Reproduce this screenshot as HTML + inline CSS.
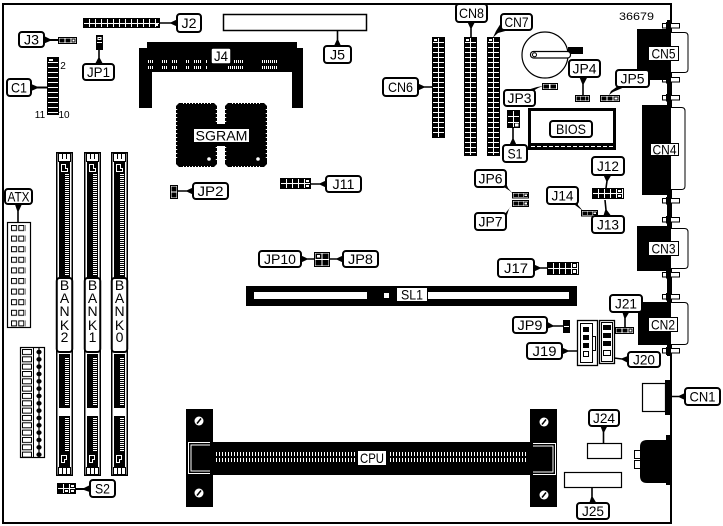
<!DOCTYPE html>
<html><head><meta charset="utf-8">
<style>
html,body{margin:0;padding:0;background:#fff;}
svg{display:block;}
text{font-family:"Liberation Sans",sans-serif;font-size:14px;text-anchor:middle;fill:#000;}
.b{fill:#fff;stroke:#000;stroke-width:2;}
.t{fill:#000;}
</style></head><body>
<svg width="723" height="526" viewBox="0 0 723 526" xmlns="http://www.w3.org/2000/svg">
<defs>
<pattern id="pg" x="1" y="1" width="6" height="5" patternUnits="userSpaceOnUse"><rect width="6" height="5" fill="#000"/><rect x="5" width="1" height="5" fill="#fff"/><rect y="4" width="6" height="1" fill="#fff"/></pattern>
<pattern id="pg6" x="1" y="1" width="6" height="6" patternUnits="userSpaceOnUse"><rect width="6" height="6" fill="#000"/><rect x="5" width="1" height="6" fill="#fff"/><rect y="5" width="6" height="1" fill="#fff"/></pattern>
<pattern id="ht" width="4" height="2" patternUnits="userSpaceOnUse"><rect width="4" height="1" fill="#fff"/></pattern>
<pattern id="vt" width="2" height="4" patternUnits="userSpaceOnUse"><rect width="1" height="4" fill="#fff"/></pattern>
<pattern id="vt3" width="3" height="4" patternUnits="userSpaceOnUse"><rect width="1" height="4" fill="#fff"/></pattern>
<pattern id="atx" x="11" y="225" width="7.3" height="10.6" patternUnits="userSpaceOnUse"><rect x="0.5" y="0.5" width="5" height="5" fill="#fff" stroke="#000" stroke-width="1"/></pattern>
<pattern id="lsq" x="22" y="349" width="10" height="7.33" patternUnits="userSpaceOnUse"><rect x="0.5" y="0.5" width="9" height="5" fill="#fff" stroke="#000" stroke-width="1"/></pattern>
<pattern id="rsq" x="35" y="349" width="8" height="7.33" patternUnits="userSpaceOnUse"><ellipse cx="4" cy="3" rx="2.6" ry="2.3" fill="#000"/></pattern>
<g id="slot">
 <rect x="0.75" y="152.75" width="15.5" height="322.5" fill="#fff" stroke="#000" stroke-width="1.5"/>
 <rect x="2.5" y="153.5" width="12" height="8" fill="#fff" stroke="#000" stroke-width="1"/>
 <path d="M6.5,153.5V159M10.5,153.5V159" stroke="#000" stroke-width="1"/>
 <rect x="3" y="161" width="11" height="117" fill="#000"/>
 <path d="M5.5,164.5h4v4h2v3h-6z" fill="none" stroke="#fff" stroke-width="1"/>
 <rect x="9" y="174" width="4" height="102" fill="url(#ht)"/>
 <rect x="3" y="354" width="11" height="54" fill="#000"/>
 <rect x="9" y="357" width="4" height="49" fill="url(#ht)"/>
 <rect x="3" y="416" width="11" height="51" fill="#000"/>
 <rect x="9" y="418" width="4" height="34" fill="url(#ht)"/>
 <path d="M5.5,455.5h5v4h-2v3h-3z" fill="none" stroke="#fff" stroke-width="1"/>
 <rect x="2.5" y="467.5" width="12" height="7" fill="#fff" stroke="#000" stroke-width="1"/>
 <path d="M6.5,467.5v7M10.5,467.5v7" stroke="#000" stroke-width="1"/>
 <rect x="0.75" y="278" width="15.5" height="74" rx="3" fill="#fff" stroke="#000" stroke-width="2"/>
</g>
</defs>

<rect width="723" height="526" fill="#fff"/>
<!-- board -->
<rect x="3" y="4" width="668" height="519" fill="none" stroke="#000" stroke-width="2"/>

<!-- J5 -->
<rect x="223.5" y="14.5" width="143" height="16" fill="none" stroke="#000" stroke-width="1.5"/>

<!-- J2 -->
<g transform="translate(83,18)"><rect width="77" height="10" fill="#000"/><rect x="1" y="1" width="75" height="8" fill="url(#pg)"/><rect x="72" y="6" width="3" height="2" fill="#fff"/></g>

<!-- J3 -->
<rect x="58.5" y="37.5" width="18" height="6" fill="#fff" stroke="#000"/>
<rect x="59.5" y="38.5" width="5" height="4" fill="#000"/><rect x="65.5" y="38.5" width="5" height="4" fill="#000"/>
<rect x="71.5" y="38.5" width="4" height="4" fill="#000"/><rect x="72.5" y="39.5" width="2" height="2" fill="#fff"/>

<!-- JP1 -->
<rect x="96" y="35" width="7" height="15" fill="#000"/><rect x="97" y="42" width="5" height="1" fill="#fff"/><rect x="97.5" y="37" width="4" height="3" fill="#fff"/><rect x="98.5" y="38" width="2" height="1" fill="#000"/>

<!-- C1 -->
<rect x="47" y="57" width="12" height="58" fill="#000"/>
<path d="M48,62.5H58M48,67.5H58M48,72.5H58M48,77.5H58M48,82.5H58M48,87.5H58M48,92.5H58M48,97.5H58M48,102.5H58M48,107.5H58M48,112.5H58" stroke="#fff" stroke-width="1"/>
<rect x="49" y="59" width="4" height="2" fill="#fff"/>
<text x="63" y="69" style="font-size:10px">2</text>
<text x="40" y="118" style="font-size:10px">11</text>
<text x="64" y="118" style="font-size:10px">10</text>

<!-- J4 -->
<path d="M147,42H297V48H303V108H292V72H152V108H139V48H147Z" fill="#000"/>
<rect x="144" y="46" width="3" height="2" fill="#fff"/>
<g fill="url(#vt)">
<rect x="148" y="60" width="6" height="3"/><rect x="162" y="60" width="6" height="3"/><rect x="172" y="60" width="6" height="3"/><rect x="185" y="60" width="4" height="3"/><rect x="194" y="60" width="8" height="3"/><rect x="206" y="60" width="2" height="3"/><rect x="234" y="60" width="9" height="3"/><rect x="262" y="60" width="15" height="3"/>
<rect x="148" y="66" width="6" height="3"/><rect x="162" y="66" width="6" height="3"/><rect x="172" y="66" width="6" height="3"/><rect x="185" y="66" width="4" height="3"/><rect x="194" y="66" width="8" height="3"/><rect x="206" y="66" width="2" height="3"/><rect x="228" y="66" width="15" height="3"/><rect x="262" y="66" width="15" height="3"/>
</g>
<rect x="211" y="48" width="20" height="16" rx="2" fill="#fff" stroke="#000" stroke-width="1.5"/>
<text x="221" y="61" textLength="14" lengthAdjust="spacingAndGlyphs">J4</text>

<!-- SGRAM -->
<path d="M179,103H214L217,106V164L214,167H179L176,164V106Z" fill="#000"/>
<path d="M228,103H264L267,106V164L264,167H228L225,164V106Z" fill="#000"/>
<rect x="216" y="124" width="10" height="22" fill="#000"/>
<g stroke="#fff" fill="none">
<path d="M183,103.5H212M183,166.5H212M232,103.5H262M232,166.5H262" stroke-width="1" stroke-dasharray="1 2"/>
<path d="M176.5,109V161M216.5,109V123M216.5,147V161M225.5,109V123M225.5,147V161M266.5,109V161" stroke-width="1.5" stroke-dasharray="1 3"/>
</g>
<circle cx="209" cy="159" r="1.8" fill="#fff"/><circle cx="258" cy="159" r="1.8" fill="#fff"/>
<rect x="193.5" y="128.5" width="56" height="14" fill="#fff" stroke="#000" stroke-width="1"/>
<text x="221.5" y="140.5" textLength="52" lengthAdjust="spacingAndGlyphs">SGRAM</text>

<!-- CN6, CN8, CN7 -->
<g transform="translate(432,37)"><rect width="13" height="101" fill="#000"/><rect x="1" y="1" width="11" height="99" fill="url(#pg)"/><rect x="2" y="2" width="3" height="2" fill="#fff"/></g>
<g transform="translate(464,37)"><rect width="13" height="119" fill="#000"/><rect x="1" y="1" width="11" height="117" fill="url(#pg)"/><rect x="2" y="2" width="3" height="2" fill="#fff"/></g>
<g transform="translate(487,37)"><rect width="13" height="119" fill="#000"/><rect x="1" y="1" width="11" height="117" fill="url(#pg)"/><rect x="2" y="2" width="3" height="2" fill="#fff"/></g>

<!-- battery -->
<circle cx="545" cy="55" r="23" fill="none" stroke="#000" stroke-width="1.2"/>
<rect x="568" y="47" width="15" height="7" fill="#000"/>
<rect x="530.5" y="51.5" width="40" height="6.5" rx="3" fill="#fff" stroke="#000" stroke-width="1.2"/>
<circle cx="534.5" cy="54.8" r="2" fill="#fff" stroke="#000" stroke-width="1"/>

<text x="636.5" y="20" style="font-size:11px" textLength="35" lengthAdjust="spacingAndGlyphs">36679</text>

<!-- JP3 -->
<rect x="542.5" y="83.5" width="15" height="6" fill="#fff" stroke="#000"/>
<rect x="543.5" y="84.5" width="5.5" height="4" fill="#000"/><rect x="550.5" y="84.5" width="5.5" height="4" fill="#000"/>
<!-- JP4 -->
<rect x="575.5" y="95.5" width="14" height="6" fill="#fff" stroke="#000"/>
<rect x="576.5" y="96.5" width="4" height="4" fill="#000"/><rect x="581" y="96.5" width="4" height="4" fill="#000"/><rect x="585.5" y="96.5" width="3" height="4" fill="#000"/>
<!-- JP5 -->
<rect x="600.5" y="95.5" width="19" height="6" fill="#fff" stroke="#000"/>
<rect x="601.5" y="96.5" width="5" height="4" fill="#000"/><rect x="607.5" y="96.5" width="5" height="4" fill="#000"/>
<rect x="613.5" y="96.5" width="5" height="4" fill="#000"/><rect x="614.5" y="97.5" width="3" height="2" fill="#fff"/>

<!-- BIOS -->
<rect x="529.5" y="109.5" width="85" height="39" fill="#fff" stroke="#000" stroke-width="3"/>
<rect x="528" y="143" width="88" height="7" fill="#000"/>
<line x1="531" y1="146.5" x2="613" y2="146.5" stroke="#fff" stroke-width="1" stroke-dasharray="4 2"/>
<rect x="550" y="121" width="42" height="16" rx="3" class="b"/>
<text x="571" y="134" textLength="30" lengthAdjust="spacingAndGlyphs">BIOS</text>

<!-- S1 -->
<rect x="507" y="110" width="13" height="18" fill="#000"/>
<path d="M513.5,111V127M508,116.5H519M508,122.5H519" stroke="#fff" stroke-width="1"/>
<rect x="515" y="123.5" width="3.5" height="3" fill="#fff"/>

<!-- right edge bars -->
<rect x="667" y="20" width="4" height="336" fill="#000"/>

<!-- CN5 -->
<path d="M671,32.5H684.5Q688,32.5 688,36V69Q688,72.5 684.5,72.5H671" fill="#fff" stroke="#000" stroke-width="1"/>
<rect x="662.5" y="23.5" width="17" height="4.5" fill="#fff" stroke="#000"/><rect x="666" y="22" width="5" height="7.5" fill="#000"/>
<rect x="662.5" y="77.5" width="17" height="4.5" fill="#fff" stroke="#000"/><rect x="666" y="76" width="5" height="7.5" fill="#000"/>
<rect x="637" y="29" width="34" height="51" fill="#000"/>
<rect x="648.5" y="46.5" width="30" height="14" fill="#fff" stroke="#000" stroke-width="1"/>
<text x="663.5" y="58.5" textLength="24" lengthAdjust="spacingAndGlyphs">CN5</text>

<!-- CN4 -->
<path d="M671,107.5H681.5Q685,107.5 685,111V186Q685,189.5 681.5,189.5H671" fill="#fff" stroke="#000" stroke-width="1"/>
<rect x="662.5" y="95.5" width="17" height="4.5" fill="#fff" stroke="#000"/><rect x="666" y="94" width="5" height="7.5" fill="#000"/>
<rect x="662.5" y="198.5" width="17" height="4.5" fill="#fff" stroke="#000"/><rect x="666" y="197" width="5" height="7.5" fill="#000"/>
<rect x="642" y="105" width="29" height="90" fill="#000"/>
<rect x="650.5" y="143.5" width="28" height="12" fill="#fff" stroke="#000" stroke-width="1"/>
<text x="664.5" y="154.5" textLength="24" lengthAdjust="spacingAndGlyphs">CN4</text>

<!-- CN3 -->
<path d="M671,228.5H684.5Q688,228.5 688,232V265Q688,268.5 684.5,268.5H671" fill="#fff" stroke="#000" stroke-width="1"/>
<rect x="662.5" y="217.5" width="17" height="4.5" fill="#fff" stroke="#000"/><rect x="666" y="216" width="5" height="7.5" fill="#000"/>
<rect x="662.5" y="272.5" width="17" height="4.5" fill="#fff" stroke="#000"/><rect x="666" y="271" width="5" height="7.5" fill="#000"/>
<rect x="637" y="226" width="34" height="45" fill="#000"/>
<rect x="648.5" y="241.5" width="30" height="14" fill="#fff" stroke="#000" stroke-width="1"/>
<text x="663.5" y="253.5" textLength="24" lengthAdjust="spacingAndGlyphs">CN3</text>

<!-- CN2 -->
<path d="M671,302.5H684.5Q688,302.5 688,306V341Q688,344.5 684.5,344.5H671" fill="#fff" stroke="#000" stroke-width="1"/>
<rect x="662.5" y="294.5" width="17" height="4.5" fill="#fff" stroke="#000"/><rect x="666" y="293" width="5" height="7.5" fill="#000"/>
<rect x="662.5" y="348.5" width="17" height="4.5" fill="#fff" stroke="#000"/><rect x="666" y="347" width="5" height="8" fill="#000"/>
<rect x="638" y="302" width="33" height="43" fill="#000"/>
<rect x="648.5" y="317.5" width="29" height="14" fill="#fff" stroke="#000" stroke-width="1"/>
<text x="663" y="329.5" textLength="24" lengthAdjust="spacingAndGlyphs">CN2</text>

<!-- CN1 -->
<rect x="642.5" y="383.5" width="23" height="28" fill="#fff" stroke="#000" stroke-width="1.2"/>
<rect x="665" y="380" width="6" height="35" fill="#000"/>

<!-- audio jack -->
<rect x="634.5" y="450.5" width="6" height="8" fill="#fff" stroke="#000"/>
<rect x="634.5" y="460.5" width="6" height="8" fill="#fff" stroke="#000"/>
<path d="M647,440H671V483H647Q640,483 640,476V447Q640,440 647,440Z" fill="#000"/>
<rect x="666" y="435" width="5" height="50" fill="#000"/>

<!-- J12, J13, J14 -->
<g transform="translate(592,188)"><rect width="32" height="11" fill="#000"/><rect x="1" y="1" width="30" height="9" fill="url(#pg)"/><rect x="26" y="2" width="3" height="2" fill="#fff"/><rect x="26" y="7" width="3" height="2" fill="#fff"/></g>
<rect x="581.5" y="210.5" width="16" height="5.5" fill="#fff" stroke="#000"/>
<rect x="582.5" y="211.5" width="4.5" height="3.5" fill="#000"/><rect x="587.5" y="211.5" width="4.5" height="3.5" fill="#000"/>
<rect x="592.5" y="211.5" width="4.5" height="3.5" fill="#000"/><rect x="593.5" y="212.5" width="2.5" height="1.5" fill="#fff"/>

<!-- JP6 / JP7 -->
<rect x="512.5" y="192.5" width="16" height="5.5" fill="#fff" stroke="#000"/>
<rect x="513.5" y="193.5" width="4.5" height="3.5" fill="#000"/><rect x="518.5" y="193.5" width="4.5" height="3.5" fill="#000"/>
<rect x="523.5" y="193.5" width="4.5" height="3.5" fill="#000"/><rect x="524.5" y="194.5" width="2.5" height="1.5" fill="#fff"/>
<rect x="512.5" y="200.5" width="16" height="6" fill="#fff" stroke="#000"/>
<rect x="513.5" y="201.5" width="4.5" height="4" fill="#000"/><rect x="518.5" y="201.5" width="4.5" height="4" fill="#000"/>
<rect x="523.5" y="201.5" width="4.5" height="4" fill="#000"/><rect x="524.5" y="202.5" width="2.5" height="2" fill="#fff"/>

<!-- J11 -->
<g transform="translate(280,178)"><rect width="31" height="11" fill="#000"/><rect x="1" y="1" width="29" height="9" fill="url(#pg)"/><rect x="26" y="2" width="3" height="2" fill="#fff"/><rect x="26" y="7" width="3" height="2" fill="#fff"/></g>

<!-- JP2 -->
<rect x="170.5" y="185.5" width="7" height="13" fill="#fff" stroke="#000"/>
<rect x="171.5" y="186.5" width="5" height="5" fill="#000"/><rect x="171.5" y="192.5" width="5" height="5" fill="#000"/>

<!-- ATX -->
<rect x="7.5" y="222.5" width="23" height="105" fill="#fff" stroke="#000" stroke-width="1.2"/>
<rect x="11" y="225" width="15" height="103" fill="url(#atx)"/>

<!-- left connector -->
<rect x="20.5" y="347.5" width="24" height="110" fill="#fff" stroke="#000" stroke-width="1.2"/>
<line x1="33.5" y1="347.5" x2="33.5" y2="457.5" stroke="#000" stroke-width="1"/>
<rect x="22" y="349" width="10" height="108" fill="url(#lsq)"/>
<line x1="39" y1="348" x2="39" y2="457" stroke="#000" stroke-width="1.2"/>
<rect x="35" y="349" width="8" height="108" fill="url(#rsq)"/>

<!-- memory slots -->
<use href="#slot" x="56"/>
<use href="#slot" x="84"/>
<use href="#slot" x="111"/>
<g style="font-size:12px">
<text x="64.5" y="290">B</text><text x="64.5" y="303">A</text><text x="64.5" y="316">N</text><text x="64.5" y="330">K</text><text x="64.5" y="342">2</text>
<text x="92.5" y="290">B</text><text x="92.5" y="303">A</text><text x="92.5" y="316">N</text><text x="92.5" y="330">K</text><text x="92.5" y="342">1</text>
<text x="119.5" y="290">B</text><text x="119.5" y="303">A</text><text x="119.5" y="316">N</text><text x="119.5" y="330">K</text><text x="119.5" y="342">0</text>
</g>

<!-- S2 -->
<g transform="translate(57,483)"><rect width="19" height="11" fill="#000"/><rect x="1" y="1" width="17" height="9" fill="url(#pg)"/><rect x="8" y="7" width="3" height="2" fill="#fff"/><rect x="14" y="2" width="3" height="2" fill="#fff"/><rect x="14" y="7" width="3" height="2" fill="#fff"/></g>

<!-- JP10/JP8 connector -->
<rect x="314.5" y="252.5" width="15" height="14" fill="#fff" stroke="#000"/>
<rect x="315.5" y="253.5" width="6" height="5.5" fill="#000"/><rect x="322.5" y="253.5" width="6" height="5.5" fill="#000"/>
<rect x="315.5" y="260" width="6" height="5.5" fill="#000"/><rect x="322.5" y="260" width="6" height="5.5" fill="#000"/>
<rect x="317" y="255" width="3" height="2.5" fill="#fff"/>

<!-- SL1 -->
<rect x="246" y="286" width="331" height="20" fill="#000"/>
<rect x="254" y="292" width="113" height="7" fill="#fff"/>
<rect x="384" y="293" width="5" height="5" fill="#fff"/>
<rect x="428" y="292" width="141" height="7" fill="#fff"/>
<rect x="396.5" y="287.5" width="31" height="14" fill="#fff" stroke="#000" stroke-width="1"/>
<text x="412" y="299.5" textLength="22" lengthAdjust="spacingAndGlyphs">SL1</text>

<!-- J17 -->
<g transform="translate(547,262)"><rect width="32" height="13" fill="#000"/><rect x="1" y="1" width="30" height="11" fill="url(#pg6)"/><rect x="26" y="2" width="3" height="3" fill="#fff"/><rect x="26" y="8" width="3" height="3" fill="#fff"/></g>

<!-- JP9 -->
<rect x="563" y="320" width="7" height="13" fill="#000"/><rect x="564" y="326" width="5" height="1" fill="#fff"/>

<!-- J21 -->
<rect x="615.5" y="327.5" width="18" height="6" fill="#fff" stroke="#000"/>
<rect x="616.5" y="328.5" width="5" height="4" fill="#000"/><rect x="622.5" y="328.5" width="5" height="4" fill="#000"/>
<rect x="628.5" y="328.5" width="4" height="4" fill="#000"/><rect x="629.5" y="329.5" width="2" height="2" fill="#fff"/>

<!-- J19 -->
<rect x="577.5" y="320.5" width="20" height="45" fill="#fff" stroke="#000" stroke-width="1.3"/>
<rect x="580.5" y="323.5" width="12" height="39" fill="none" stroke="#000" stroke-width="1"/>
<rect x="592.5" y="336.5" width="3" height="14" fill="none" stroke="#000" stroke-width="1"/>
<rect x="583" y="327" width="6" height="5" fill="#000"/><rect x="583" y="335" width="6" height="5" fill="#000"/><rect x="583" y="343" width="6" height="5" fill="#000"/>
<rect x="583.5" y="351.5" width="5" height="5" fill="#fff" stroke="#000"/>

<!-- J20 -->
<rect x="599.5" y="320.5" width="15" height="43" fill="#fff" stroke="#000" stroke-width="1.3"/>
<rect x="601.5" y="322.5" width="11" height="39" fill="none" stroke="#000" stroke-width="1"/>
<rect x="603" y="325" width="8" height="5" fill="#000"/><rect x="603" y="333" width="8" height="5" fill="#000"/><rect x="603" y="341" width="8" height="5" fill="#000"/>
<rect x="603.5" y="350.5" width="7" height="5" fill="#fff" stroke="#000"/>

<!-- J24 / J25 -->
<rect x="587.5" y="443.5" width="34" height="15" fill="#fff" stroke="#000" stroke-width="1.2"/>
<rect x="564.5" y="472.5" width="57" height="15" fill="#fff" stroke="#000" stroke-width="1.2"/>

<!-- CPU -->
<rect x="186" y="442" width="371" height="33" fill="#000"/>
<rect x="186" y="409" width="27" height="98" fill="#000"/>
<rect x="530" y="409" width="27" height="98" fill="#000"/>
<path d="M210,442.5H188.5V473.5H210M210,445H191V471H210" fill="none" stroke="#fff" stroke-width="1"/>
<path d="M533,443.5H555.5V474.5H533M533,446H553V472H533" fill="none" stroke="#fff" stroke-width="1"/>
<g fill="#fff"><circle cx="199" cy="421" r="4.5"/><circle cx="199" cy="493" r="4.5"/><circle cx="544" cy="422" r="4.5"/><circle cx="544" cy="495" r="4.5"/></g>
<path d="M197,423.5l4,-5M197,495.5l4,-5M542,424.5l4,-5M542,497.5l4,-5" stroke="#000" stroke-width="1.5"/>
<g fill="url(#vt3)">
<rect x="216" y="452" width="141" height="4"/><rect x="388" y="452" width="140" height="4"/>
<rect x="216" y="458" width="141" height="4"/><rect x="388" y="458" width="140" height="4"/>
</g>
<rect x="358" y="451" width="28" height="14" fill="#fff"/>
<text x="372" y="463" textLength="24" lengthAdjust="spacingAndGlyphs">CPU</text>

<!-- callout tails -->
<g fill="#000">
<polygon points="178,19 171,22.2 160,22.2 160,23.8 171,23.8 178,27"/>
<polygon points="43,35.5 50,39 58,39 58,41 50,41 43,44"/>
<polygon points="94.5,65 98.2,58 98.2,50 99.8,50 99.8,58 103.5,65"/>
<polygon points="30,83.5 37,86.5 47,86.5 47,88.5 37,88.5 30,91.5"/>
<polygon points="333.5,47 336.7,40 336.7,30 338.3,30 338.3,40 341.5,47"/>
<polygon points="417,83 424,86.2 432,86.2 432,87.8 424,87.8 417,91"/>
<polygon points="467,21 470.2,28 470.2,37 471.8,37 471.8,28 475.5,21"/>
<polygon points="501,23 509,30 498,33 493,37.5 496,31"/>
<polygon points="524,91 533,91 538,88 543,86 537,87"/>
<polygon points="579,76 582.2,84 582.2,95 583.8,95 583.8,84 588,76"/>
<polygon points="618,86 627,86 613,92 609,95 611,91"/>
<polygon points="509,146 512.2,139 512.2,128 513.8,128 513.8,139 517,146"/>
<polygon points="603,174 606.2,181 605.2,188 606.8,188 607.8,181 612,174"/>
<polygon points="603,217 605.2,210 604.2,200 605.8,200 606.8,210 612,217"/>
<polygon points="566,202 577,199 578,205 583,211 575,205"/>
<polygon points="504,178 504,187 510,191 513,194 508,188"/>
<polygon points="504,215 504,224 509,209 513,204 508,210"/>
<polygon points="327,180 320,183.2 311,183.2 311,184.8 320,184.8 327,188"/>
<polygon points="194,187 187,190.2 177,190.2 177,191.8 187,191.8 194,195"/>
<polygon points="14.5,203 17.2,211 17.2,222 18.8,222 18.8,211 22.5,203"/>
<polygon points="300,255 307,258.2 314,258.2 314,259.8 307,259.8 300,263"/>
<polygon points="344,255 337,258.2 329,258.2 329,259.8 337,259.8 344,263"/>
<polygon points="533,264 540,267.2 547,267.2 547,268.8 540,268.8 533,272"/>
<polygon points="546,321 553,325.2 563,325.2 563,326.8 553,326.8 546,329"/>
<polygon points="622,311 624.2,318 624.2,327 625.8,327 625.8,318 630,311"/>
<polygon points="561,347 568,350.2 577,350.2 577,351.8 568,351.8 561,355"/>
<polygon points="629,355.5 622,358.2 614,357.2 614,358.8 622,359.8 629,363.5"/>
<polygon points="686,392.5 679,395.7 671,395.7 671,397.3 679,397.3 686,400.5"/>
<polygon points="600,425 602.7,432 602.7,443 604.3,443 604.3,432 608,425"/>
<polygon points="589,504 591.2,497 591.2,487 592.8,487 592.8,497 597,504"/>
<polygon points="91,484.5 84,488 76,488 76,490 84,490 91,492.5"/>
</g>

<!-- labels -->
<rect x="177" y="14" width="24" height="18" rx="3" class="b"/><text x="189" y="28" textLength="15" lengthAdjust="spacingAndGlyphs">J2</text>
<rect x="19" y="32" width="25" height="15" rx="3" class="b"/><text x="31.5" y="44.5" textLength="15" lengthAdjust="spacingAndGlyphs">J3</text>
<rect x="83" y="64" width="31" height="16" rx="3" class="b"/><text x="98.5" y="77" textLength="23" lengthAdjust="spacingAndGlyphs">JP1</text>
<rect x="7" y="79" width="24" height="17" rx="3" class="b"/><text x="19" y="92.5" textLength="16" lengthAdjust="spacingAndGlyphs">C1</text>
<rect x="324" y="46" width="27" height="17" rx="3" class="b"/><text x="337.5" y="59.5" textLength="15" lengthAdjust="spacingAndGlyphs">J5</text>
<rect x="383" y="78" width="35" height="18" rx="3" class="b"/><text x="400.5" y="92" textLength="25" lengthAdjust="spacingAndGlyphs">CN6</text>
<rect x="456" y="4" width="31" height="18" rx="3" class="b"/><text x="471.5" y="18" textLength="25" lengthAdjust="spacingAndGlyphs">CN8</text>
<rect x="501" y="14" width="31" height="16" rx="3" class="b"/><text x="516.5" y="27" textLength="24" lengthAdjust="spacingAndGlyphs">CN7</text>
<rect x="569" y="60" width="31" height="17" rx="3" class="b"/><text x="584.5" y="73.5" textLength="24" lengthAdjust="spacingAndGlyphs">JP4</text>
<rect x="616" y="70" width="33" height="17" rx="3" class="b"/><text x="632.5" y="83.5" textLength="24" lengthAdjust="spacingAndGlyphs">JP5</text>
<rect x="504" y="90" width="31" height="16" rx="3" class="b"/><text x="519.5" y="103" textLength="24" lengthAdjust="spacingAndGlyphs">JP3</text>
<rect x="503" y="145" width="24" height="17" rx="3" class="b"/><text x="515" y="158.5" textLength="15" lengthAdjust="spacingAndGlyphs">S1</text>
<rect x="592" y="157" width="32" height="18" rx="3" class="b"/><text x="608" y="171" textLength="22" lengthAdjust="spacingAndGlyphs">J12</text>
<rect x="592" y="216" width="32" height="17" rx="3" class="b"/><text x="608" y="229.5" textLength="22" lengthAdjust="spacingAndGlyphs">J13</text>
<rect x="547" y="187" width="31" height="17" rx="3" class="b"/><text x="562.5" y="200.5" textLength="22" lengthAdjust="spacingAndGlyphs">J14</text>
<rect x="475" y="170" width="31" height="17" rx="3" class="b"/><text x="490.5" y="183.5" textLength="24" lengthAdjust="spacingAndGlyphs">JP6</text>
<rect x="475" y="213" width="31" height="17" rx="3" class="b"/><text x="490.5" y="226.5" textLength="24" lengthAdjust="spacingAndGlyphs">JP7</text>
<rect x="326" y="176" width="35" height="16" rx="3" class="b"/><text x="343.5" y="189" textLength="22" lengthAdjust="spacingAndGlyphs">J11</text>
<rect x="193" y="183" width="35" height="16" rx="3" class="b"/><text x="210.5" y="196" textLength="26" lengthAdjust="spacingAndGlyphs">JP2</text>
<rect x="5" y="189" width="27" height="15" rx="3" class="b"/><text x="18.5" y="201.5" textLength="22" lengthAdjust="spacingAndGlyphs">ATX</text>
<rect x="259" y="251" width="42" height="16" rx="3" class="b"/><text x="280" y="264" textLength="32" lengthAdjust="spacingAndGlyphs">JP10</text>
<rect x="343" y="251" width="35" height="16" rx="3" class="b"/><text x="360.5" y="264" textLength="25" lengthAdjust="spacingAndGlyphs">JP8</text>
<rect x="498" y="259" width="36" height="18" rx="3" class="b"/><text x="516" y="273" textLength="24" lengthAdjust="spacingAndGlyphs">J17</text>
<rect x="513" y="317" width="34" height="16" rx="3" class="b"/><text x="530" y="330" textLength="25" lengthAdjust="spacingAndGlyphs">JP9</text>
<rect x="610" y="295" width="32" height="17" rx="3" class="b"/><text x="626" y="308.5" textLength="22" lengthAdjust="spacingAndGlyphs">J21</text>
<rect x="527" y="343" width="35" height="16" rx="3" class="b"/><text x="544.5" y="356" textLength="24" lengthAdjust="spacingAndGlyphs">J19</text>
<rect x="628" y="352" width="32" height="15" rx="3" class="b"/><text x="644" y="364.5" textLength="22" lengthAdjust="spacingAndGlyphs">J20</text>
<rect x="685" y="388" width="35" height="17" rx="3" class="b"/><text x="702.5" y="401.5" textLength="26" lengthAdjust="spacingAndGlyphs">CN1</text>
<rect x="589" y="410" width="30" height="16" rx="3" class="b"/><text x="604" y="423" textLength="22" lengthAdjust="spacingAndGlyphs">J24</text>
<rect x="577" y="503" width="32" height="16" rx="3" class="b"/><text x="593" y="516" textLength="22" lengthAdjust="spacingAndGlyphs">J25</text>
<rect x="90" y="480" width="25" height="17" rx="3" class="b"/><text x="102.5" y="493.5" textLength="15" lengthAdjust="spacingAndGlyphs">S2</text>
</svg>
</body></html>
